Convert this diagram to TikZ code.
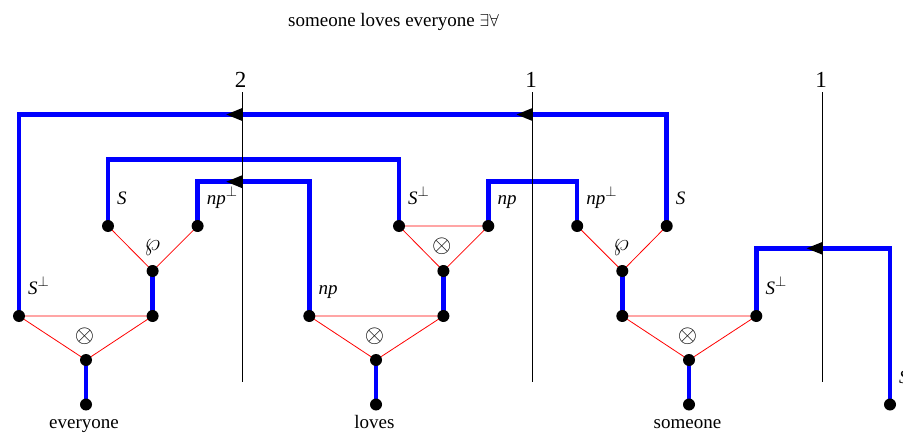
\documentclass[tikz,border=0pt]{standalone}
\usepackage{fontspec}
\setmainfont{Liberation Serif}
\pgfdeclarelayer{wires}
\pgfdeclarelayer{links}
\pgfdeclarelayer{axes}
\pgfsetlayers{wires,links,axes,main}
\newcommand{\myperp}{{\fontsize{20}{22}\selectfont$^{\perp}$}}
\begin{document}
\begin{tikzpicture}[x=1pt,y=-1pt,
  dot/.style={circle,fill=black,inner sep=0pt,minimum size=12pt},
  wire/.style={draw=blue,line width=4.5pt,line join=miter},
  link/.style={draw=red,line width=0.8pt},
  axisline/.style={draw=black,line width=0.8pt},
  lab/.style={anchor=base west,inner sep=0pt,font=\fontsize{19}{21}\selectfont},
  word/.style={anchor=base,inner sep=0pt,font=\fontsize{19}{21}\selectfont},
  num/.style={anchor=base,inner sep=0pt,font=\fontsize{23}{26}\selectfont},
  tensor/.style={inner sep=0pt,font=\fontsize{27}{29}\selectfont},
  par/.style={inner sep=0pt,font=\fontsize{29}{31}\selectfont},
  larrow/.pic={\fill[black] (0,0) -- (0,-6.5) -- (-16,0) -- (0,6.5) -- cycle;}
]
\useasboundingbox (0,0) rectangle (903,433);

% title
\node[word] (title) at (393.5,26.5) {someone loves everyone $\exists\forall$};

% everyone
\node[dot] (e1) at (108,226) {};
\node[dot] (e2) at (197.6,226) {};
\node[dot] (e3) at (152.6,271) {};
\node[dot] (e4) at (19,316) {};
\node[dot] (e5) at (152.6,316) {};
\node[dot] (e6) at (86,360) {};
\node[dot] (e7) at (86,404.5) {};
% loves
\node[dot] (l1) at (399,226) {};
\node[dot] (l2) at (488.3,226) {};
\node[dot] (l3) at (443.4,271) {};
\node[dot] (l4) at (309.3,316) {};
\node[dot] (l5) at (443.4,316) {};
\node[dot] (l6) at (376,360) {};
\node[dot] (l7) at (376,404.5) {};
% someone
\node[dot] (s1) at (577.2,226) {};
\node[dot] (s2) at (666.7,226) {};
\node[dot] (s3) at (622.3,271) {};
\node[dot] (s4) at (622.3,316) {};
\node[dot] (s5) at (756.3,316) {};
\node[dot] (s6) at (689,360) {};
\node[dot] (s7) at (689,404.5) {};
\node[dot] (f) at (890,404.5) {};

% crossing points
\coordinate (x1) at (242.3,114.5);
\coordinate (x2) at (532.5,114.5);
\coordinate (t2) at (250,159.3);
\coordinate (x3) at (242.3,181.7);
\coordinate (t4) at (532.5,181.7);
\coordinate (x5) at (822.7,248.3);

\begin{pgfonlayer}{wires}
\draw[wire] (e4.center) |- (x1) -- (x2) -| (s2.center);
\draw[wire] (e1.center) |- (t2) -| (l1.center);
\draw[wire] (e2.center) |- (x3) -| (l4.center);
\draw[wire] (l2.center) |- (t4) -| (s1.center);
\draw[wire] (s5.center) |- (x5) -| (f.center);
\draw[wire] (e3.center) -- (e5.center);
\draw[wire] (e6.center) -- (e7.center);
\draw[wire] (l3.center) -- (l5.center);
\draw[wire] (l6.center) -- (l7.center);
\draw[wire] (s3.center) -- (s4.center);
\draw[wire] (s6.center) -- (s7.center);
\end{pgfonlayer}

\begin{pgfonlayer}{links}
\draw[link] (e1.center) -- (e3.center) -- (e2.center);
\draw[link] (e4.center) -- (e5.center) -- (e6.center) -- cycle;
\draw[link] (l1.center) -- (l2.center) -- (l3.center) -- cycle;
\draw[link] (l4.center) -- (l5.center) -- (l6.center) -- cycle;
\draw[link] (s1.center) -- (s3.center) -- (s2.center);
\draw[link] (s4.center) -- (s5.center) -- (s6.center) -- cycle;
\end{pgfonlayer}

\begin{pgfonlayer}{axes}
\pic at (x1) {larrow};
\pic at (x2) {larrow};
\pic at (x3) {larrow};
\pic at (x5) {larrow};
\coordinate (v1t) at (242.3,92.3); \coordinate (v1b) at (242.3,381.7);
\coordinate (v2t) at (532.5,92.3); \coordinate (v2b) at (532.5,381.7);
\coordinate (v3t) at (822.7,92.3); \coordinate (v3b) at (822.7,381.7);
\draw[axisline] (v1t) -- (v1b);
\draw[axisline] (v2t) -- (v2b);
\draw[axisline] (v3t) -- (v3b);
\end{pgfonlayer}
\node[num] (n1) at (240.5,88) {2};
\node[num] (n2) at (531,88) {1};
\node[num] (n3) at (821,88) {1};

% connective symbols
\node[par] (p1) at (152.4,248) {$\wp$};
\node[tensor] (o1) at (84.5,336) {$\otimes$};
\node[tensor] (o2) at (441.7,246) {$\otimes$};
\node[tensor] (o3) at (374.5,336) {$\otimes$};
\node[par] (p2) at (621,247.5) {$\wp$};
\node[tensor] (o4) at (687.5,336) {$\otimes$};

% labels
\node[lab] at ([xshift=9pt,yshift=21.5pt]e1.center) {\textit{S}};
\node[lab] at ([xshift=9pt,yshift=21.5pt]e2.center) {\textit{np}\myperp};
\node[lab] at ([xshift=9pt,yshift=21.5pt]e4.center) {\textit{S}\myperp};
\node[lab] at ([xshift=9pt,yshift=21.5pt]l1.center) {\textit{S}\myperp};
\node[lab] at ([xshift=9pt,yshift=21.5pt]l2.center) {\textit{np}};
\node[lab] at ([xshift=9pt,yshift=21.5pt]l4.center) {\textit{np}};
\node[lab] at ([xshift=9pt,yshift=21.5pt]s1.center) {\textit{np}\myperp};
\node[lab] at ([xshift=9pt,yshift=21.5pt]s2.center) {\textit{S}};
\node[lab] at ([xshift=9pt,yshift=21.5pt]s5.center) {\textit{S}\myperp};
\node[lab] at ([xshift=9pt,yshift=21.5pt]f.center) {\textit{S}};

% words
\node[word] (w1) at (84,428) {everyone};
\node[word] (w2) at (374.5,428) {loves};
\node[word] (w3) at (687.5,428) {someone};
\end{tikzpicture}
\end{document}
